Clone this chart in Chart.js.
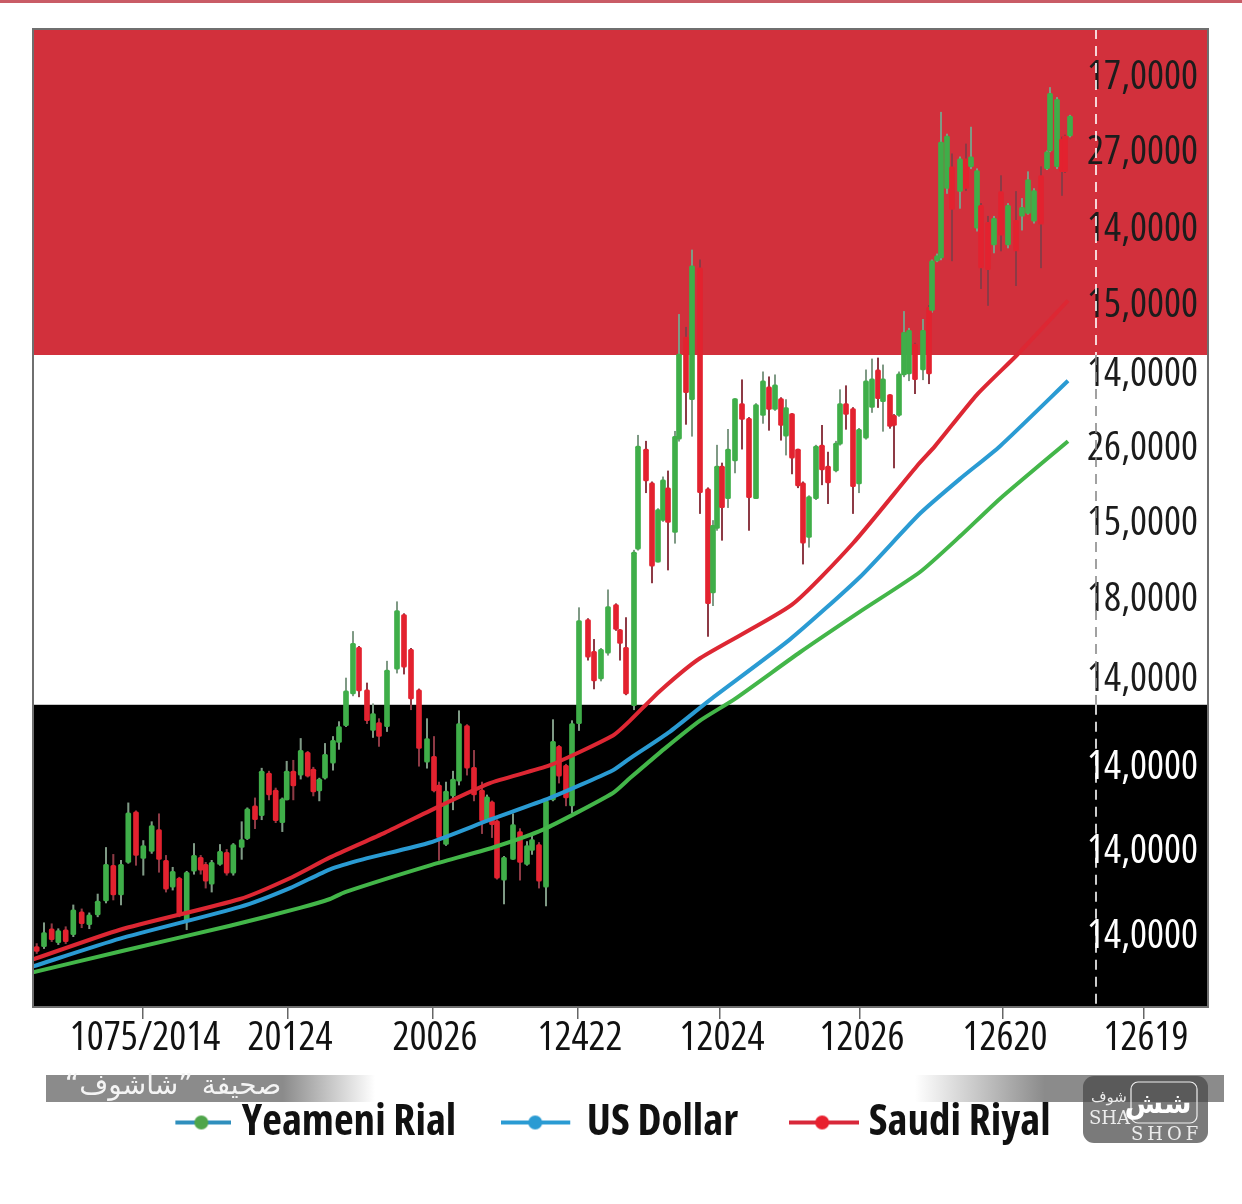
<!DOCTYPE html>
<html><head><meta charset="utf-8">
<style>html,body{margin:0;padding:0;background:#fff}canvas{display:block}</style>
<script src="https://cdn.jsdelivr.net/npm/chart.js@4"></script></head>
<body><canvas id="c" width="1242" height="1204"></canvas>
<script>
const xTickPos=[143,288,433,578,720,860,1003,1144];
const xTickLabels=['1075/2014','20124','20026','12422','12024','12026','12620','12619'];
const yTickPos=[78,154,231,308,378,452,528,605,686,774,859,945];
const yTickLabels=['17,0000','27,0000','14,0000','15,0000','14,0000','26,0000','15,0000','18,0000','14,0000','14,0000','14,0000','14,0000'];
const bandEdges=[29,358,711,1016];
const bandColors=['#d2303c','#ffffff','#000000'];
const candleX=[36.7,44,51.7,58.3,65.7,73.3,81.7,89.3,97.7,106,113.3,121,128.3,136,143.3,151.7,159,166,172.7,179.3,186.7,194,200.7,205.7,211.7,220,226.7,233.3,241.7,247.3,255,261.7,269,275.7,282.3,286.7,293.3,300.7,307.7,313.3,319.3,325,
333,339,346,353,359,367,373,379,387,397,404,411,419,427,434,439,446,453,459,467,474,482,487,492,497,504,513,520,527,532,539,546,553,559,566,572,579,588,594,601,608,616,620,626,
634,638,646,652,658,663,668,675,679,686,692,700,708,713,717,722,728,735,742,749,756,763,769,775,781,786,792,798,803,809,816,822,828,836,840,846,853,859,866,872,878,883,890,894,899,904,909,915,
923,929,932,937,941,947,952,960,966,971,977,981,988,994,1001,1008,1016,1022,1028,1034,1041,1047,1050,1057,1062,1065,1070];
const trend=[
'R','G','R','G','R','G','R','G','G','G','R','G','G','R','G','G','R','R','G','R','G','G','R','R','G','G','R','G','G','G','R','G','R','R','G','G','R','G','R','R','G','G',
'G','G','G','G','R','R','G','R','G','G','R','R','R','G','R','R','G','G','G','R','R','R','G','R','R','G','G','R','G','G','R','G','G','R','R','G','G','R','R','G','G','R','R','R',
'G','G','R','R','G','G','R','G','G','R','G','R','R','G','G','R','G','G','R','R','G','G','R','G','R','G','R','R','R','G','G','R','R','G','G','R','R','G','G','G','R','G','R','R','G','G','G','R','G',
'R','G','G','G','G','R','G','R','G','G','R','R','G','R','G','R','G','G','G','R','G','G','G','R','R','G','G'];
const bodyTop=[955,941,937,939,938,918,920,923,909,872,873,872,820,819,853,833,837,868,879,886,880,863,865,872,870,859,860,852,847,816,813,778,780,797,806,778,778,757,759,776,786,761,
747,733,697,649,653,696,720,729,676,616,620,655,696,745,763,792,798,786,730,732,774,797,804,809,828,865,832,839,853,847,852,808,748,753,772,730,626,625,657,655,612,610,635,653,
557,450,453,487,514,484,492,440,357,340,268,270,493,530,470,470,453,402,407,422,408,384,390,388,402,411,417,453,487,501,450,449,470,447,407,407,412,433,384,382,373,382,398,419,377,335,333,347,
333,310,263,258,143,137,168,160,160,158,172,207,224,220,193,207,222,209,181,192,177,153,94,100,140,137,117];
const bodyBottom=[960,955,948,951,950,943,932,933,923,909,903,903,870,863,866,859,867,897,895,922,930,879,878,889,892,872,881,881,855,846,827,823,802,828,830,807,793,782,783,799,798,785,
770,749,732,700,697,727,737,743,733,675,673,705,755,769,798,845,852,803,788,775,802,828,828,832,886,888,867,870,872,858,889,895,807,783,805,813,730,663,687,685,659,635,649,700,
712,554,485,571,567,525,527,537,443,396,403,497,609,598,533,512,503,465,423,502,503,419,413,413,429,440,462,490,548,542,503,474,487,475,448,418,491,488,442,411,402,405,430,429,419,378,377,383,
373,377,313,263,260,190,211,193,190,168,230,270,272,247,237,247,253,218,215,223,226,170,152,168,173,173,137];
const wickTop=[952,931,932,937,935,913,917,921,902,855,862,868,810,818,848,829,821,863,875,885,879,851,863,870,868,852,857,851,829,815,805,775,778,795,805,768,767,745,758,774,785,750,
743,728,684,637,652,689,710,725,667,607,619,654,695,725,743,789,789,778,717,731,757,789,802,808,827,864,821,836,849,843,850,807,726,752,771,727,613,624,645,654,595,609,635,623,
555,439,445,486,513,481,475,435,317,330,252,262,492,525,449,467,433,402,383,421,407,375,380,378,401,403,417,453,486,500,449,429,456,445,393,389,411,432,373,362,361,368,398,418,375,314,331,346,
322,308,262,256,113,135,155,158,145,128,170,205,218,218,177,205,193,200,173,190,168,152,88,98,138,136,116];
const wickBottom=[962,957,950,953,952,945,936,937,925,911,908,913,871,873,883,861,880,900,898,925,938,882,882,896,900,873,883,883,867,847,836,827,807,830,839,807,807,786,784,803,808,786,
777,756,733,702,703,730,744,753,738,679,680,716,773,775,799,868,853,817,792,782,808,841,829,845,887,912,867,888,873,862,896,914,808,790,813,820,737,666,695,687,661,636,666,701,
716,555,497,588,567,526,575,548,445,428,440,518,642,611,535,545,512,477,453,535,503,427,434,414,444,459,478,492,569,552,504,489,508,476,449,433,518,497,443,416,411,435,432,472,420,380,384,397,
383,387,315,264,262,195,263,210,192,170,233,291,308,255,253,250,288,232,216,225,270,171,153,170,197,174,138];
const lineYemeniX=[33,120,230,300,330,345,430,493,543,613,630,665,700,735,800,860,920,960,1000,1068];
const lineYemeniY=[981,960,934,916,907,900,873,855,837,800,785,755,727,705,658,617,577,541,503,445];
const lineDollarX=[33,120,240,290,330,363,430,490,550,613,630,670,710,790,860,920,960,1000,1068];
const lineDollarY=[975,947,915,896,877,867,850,827,805,777,765,738,706,645,582,518,483,450,384];
const lineRiyalX=[33,120,240,292,330,385,440,490,550,613,630,660,700,792,853,917,935,977,1017,1068];
const lineRiyalY=[968,938,907,885,865,840,813,790,772,742,727,697,664,610,548,470,450,398,358,303];
const seriesNames=['Yeameni Rial','US Dollar','Saudi Riyal'];
const dashAt=1096;

const GREEN='#3fae49',RED='#e3222f';
const pts=(xs,ys)=>xs.map((x,i)=>({x,y:ys[i]}));
const OS='"Open Sans",sans-serif';
function marker(w,x0,x1,lineCol,dotCol,dotX){
  const c=document.createElement('canvas');c.width=w;c.height=24;
  const g=c.getContext('2d');
  g.strokeStyle=lineCol;g.lineWidth=4;g.beginPath();g.moveTo(x0,12);g.lineTo(x1,12);g.stroke();
  g.fillStyle=dotCol;g.beginPath();g.arc(dotX,12,7,0,Math.PI*2);g.fill();
  return c;
}
const backdrop={id:'backdrop',
 afterLayout(ch){const L=ch.legend;L.left-=8;L.right-=8;L.top-=21;L.bottom-=21;},
 beforeDraw(ch){
  const {ctx,chartArea:a,scales:{y}}=ch;
  ctx.save();
  ctx.fillStyle='#fff';ctx.fillRect(0,0,ch.width,ch.height);
  ctx.fillStyle='#c95c66';ctx.fillRect(0,0,ch.width,3);
  bandColors.forEach((col,i)=>{
    const t=y.getPixelForValue(bandEdges[i]),b=y.getPixelForValue(bandEdges[i+1]);
    ctx.fillStyle=col;ctx.fillRect(a.left,t,a.right-a.left,b-t);
  });
  ctx.restore();
 },
 afterDatasetsDraw(ch){
  const {ctx,scales:{x,y}}=ch;const px=x.getPixelForValue(dashAt);
  ctx.save();ctx.lineWidth=1.6;ctx.setLineDash([10,7]);
  [[0,'#fff'],[1,'#8a8a8a'],[2,'#fff']].forEach(([i,col])=>{
    ctx.strokeStyle=col;ctx.beginPath();
    ctx.moveTo(px,y.getPixelForValue(bandEdges[i]));ctx.lineTo(px,y.getPixelForValue(bandEdges[i+1]));ctx.stroke();
  });
  ctx.restore();
 },
 afterDraw(ch){
  const {ctx,chartArea:a}=ch;
  ctx.save();
  ctx.strokeStyle='#6f6f6f';ctx.lineWidth=2;ctx.strokeRect(a.left,a.top,a.right-a.left,a.bottom-a.top);
  let g=ctx.createLinearGradient(46,0,375,0);
  g.addColorStop(0,'#8b8b8b');g.addColorStop(.72,'#8b8b8b');g.addColorStop(1,'rgba(139,139,139,0)');
  ctx.fillStyle=g;ctx.fillRect(46,1075,329,27);
  g=ctx.createLinearGradient(915,0,1224,0);
  g.addColorStop(0,'rgba(139,139,139,0)');g.addColorStop(.42,'#8b8b8b');g.addColorStop(1,'#8b8b8b');
  ctx.fillStyle=g;ctx.fillRect(915,1075,309,27);
  ctx.fillStyle='#f4f4f4';ctx.font='28px "DejaVu Sans"';ctx.textAlign='center';ctx.textBaseline='middle';
  ctx.direction='rtl';ctx.fillText('صحيفة ”شاشوف“',173,1087);ctx.direction='ltr';
  ctx.fillStyle='rgba(70,70,70,.72)';ctx.beginPath();ctx.roundRect(1083,1076,125,67,11);ctx.fill();
  ctx.strokeStyle='#eee';ctx.lineWidth=1.2;ctx.beginPath();ctx.roundRect(1131,1082,66,41,7);ctx.stroke();
  ctx.fillStyle='#ececec';ctx.textAlign='left';ctx.textBaseline='alphabetic';
  ctx.font='18px "DejaVu Serif"';ctx.fillText('SHA',1089,1124);
  ctx.font='18px "DejaVu Serif"';ctx.letterSpacing='4px';ctx.fillText('SHOF',1131,1140);ctx.letterSpacing='0px';
  ctx.font='15px "DejaVu Sans"';ctx.fillText('شوف',1091,1102);
  ctx.fillStyle='#fff';ctx.font='bold 28px "DejaVu Sans"';ctx.textAlign='center';ctx.fillText('شش',1158,1113);
  ctx.restore();
 }};
new Chart(document.getElementById('c'),{
 data:{datasets:[
  {type:'line',label:seriesNames[0],data:pts(lineYemeniX,lineYemeniY),borderColor:'#43b649',backgroundColor:'#43b649',borderWidth:4,pointRadius:0,tension:.2,order:1},
  {type:'line',label:seriesNames[1],data:pts(lineDollarX,lineDollarY),borderColor:'#2a9bd3',backgroundColor:'#2a9bd3',borderWidth:4,pointRadius:0,tension:.2,order:1},
  {type:'line',label:seriesNames[2],data:pts(lineRiyalX,lineRiyalY),borderColor:'#dd2733',backgroundColor:'#dd2733',borderWidth:4,pointRadius:0,tension:.2,order:1},
  {type:'bar',label:'body',data:candleX.map((x,i)=>({x,y:[bodyTop[i],bodyBottom[i]]})),backgroundColor:trend.map(t=>t==='G'?GREEN:RED),barThickness:5,grouped:false,borderRadius:1.5,borderSkipped:false,order:2},
  {type:'bar',label:'wick',data:candleX.map((x,i)=>({x,y:[wickTop[i],wickBottom[i]]})),backgroundColor:trend.map(t=>t==='G'?'#7f9a85':'#8d3a45'),barThickness:1.4,grouped:false,order:3}
 ]},
 options:{responsive:false,animation:false,devicePixelRatio:1,
  layout:{padding:{left:33,right:34,top:29,bottom:29}},
  plugins:{tooltip:{enabled:false},
   legend:{position:'bottom',
    labels:{color:'#111',font:{family:OS,size:43,weight:'condensed bold'},usePointStyle:true,pointStyleWidth:46,boxHeight:30,padding:63,
     generateLabels(ch){
      const marks=[marker(68,12,68,'#2f8fbd','#4fa54a',38),marker(82,0,69,'#2a9bd3','#2a9bd3',34),marker(70,0,70,'#d8283a','#e8202e',33)];
      return seriesNames.map((text,i)=>({text,datasetIndex:i,fontColor:'#111',pointStyle:marks[i],fillStyle:'#000',lineWidth:0,strokeStyle:'#000',hidden:false}));
     }}}},
  scales:{
   x:{type:'linear',min:33,max:1208,offset:false,
    afterBuildTicks(ax){ax.ticks=xTickPos.map(value=>({value}));},
    afterFit(ax){ax.paddingLeft=0;ax.paddingRight=0;},
    grid:{offset:false,drawOnChartArea:false,color:'#666',tickLength:12,lineWidth:1.5},border:{display:false},
    ticks:{autoSkip:false,maxRotation:0,padding:-4,labelOffset:2,color:'#111',font:{family:OS,size:40,weight:'condensed'},
     callback:(v)=>xTickLabels[xTickPos.indexOf(v)]}},
   y:{type:'linear',position:'right',reverse:true,min:29,max:1016,
    afterBuildTicks(ax){ax.ticks=yTickPos.map(value=>({value}));},
    afterFit(ax){ax.width=0;ax.paddingTop=0;ax.paddingBottom=0;},
    grid:{display:false},border:{display:false},
    ticks:{mirror:true,padding:-10,autoSkip:false,font:{family:OS,size:40,weight:'condensed'},
     color:(c)=>c.tick&&c.tick.value>bandEdges[2]?'#fff':'#1c1c1c',
     callback:(v)=>yTickLabels[yTickPos.indexOf(v)]}}
  }},
 plugins:[backdrop]
});
</script></body></html>
